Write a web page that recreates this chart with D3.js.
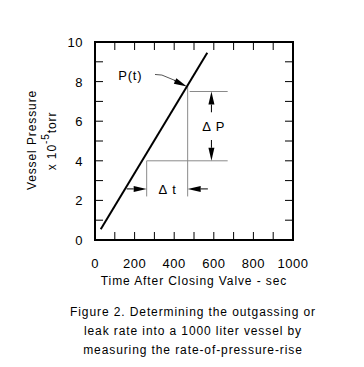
<!DOCTYPE html>
<html>
<head>
<meta charset="utf-8">
<script src="https://cdn.jsdelivr.net/npm/d3@7"></script>
<style>
  body { margin: 0; background: #fff; }
  text { font-family: "Liberation Sans", Arial, sans-serif; fill: #000; }
</style>
</head>
<body>
<div id="chart"></div>
<script>
var width = 364,
    height = 367;

// data
var xTicks = [0, 200, 400, 600, 800, 1000];
var yTicks = [0, 2, 4, 6, 8, 10];
var lineT = [29, 567];        // sec
var lineP = [0.54, 9.46];     // x 10^-5 torr
var stepT = [261, 468];       // delta t bounds
var stepP = [4, 7.5];         // delta P bounds
var captionLines = [
  "Figure 2. Determining the outgassing or",
  "leak rate into a 1000 liter vessel by",
  "measuring the rate-of-pressure-rise"
];

var x = d3.scaleLinear().domain([0, 1000]).range([95, 293]);
var y = d3.scaleLinear().domain([0, 10]).range([240, 42]);

var svg = d3.select("#chart")
  .append("svg")
    .attr("width", width)
    .attr("height", height);

// minor ticks, inside, all four sides
var tickLen = 8;
var xMinor = d3.range(100, 1000, 100);
var yMinor = d3.range(1, 10, 1);
var ticks = svg.append("g").attr("stroke", "#000").attr("stroke-width", 1);
xMinor.forEach(function(t) {
  ticks.append("line").attr("x1", x(t)).attr("x2", x(t)).attr("y1", y(0)).attr("y2", y(0) - tickLen);
  ticks.append("line").attr("x1", x(t)).attr("x2", x(t)).attr("y1", y(10)).attr("y2", y(10) + tickLen);
});
yMinor.forEach(function(p) {
  ticks.append("line").attr("x1", x(0)).attr("x2", x(0) + tickLen).attr("y1", y(p)).attr("y2", y(p));
  ticks.append("line").attr("x1", x(1000)).attr("x2", x(1000) - tickLen).attr("y1", y(p)).attr("y2", y(p));
});

// frame
svg.append("rect")
  .attr("x", x(0)).attr("y", y(10))
  .attr("width", x(1000) - x(0)).attr("height", y(0) - y(10))
  .attr("fill", "none").attr("stroke", "#000").attr("stroke-width", 2);

// tick labels
svg.selectAll(".xl").data(xTicks).enter().append("text")
  .attr("x", function(d) { return x(d); })
  .attr("y", 268)
  .attr("text-anchor", "middle")
  .style("font-size", "13px")
  .style("letter-spacing", "0.5px")
  .text(function(d) { return d; });

svg.selectAll(".yl").data(yTicks).enter().append("text")
  .attr("x", 83)
  .attr("y", function(d) { return y(d) + 5; })
  .attr("text-anchor", "end")
  .style("font-size", "13px")
  .style("letter-spacing", "0.5px")
  .text(function(d) { return d; });

// axis titles
svg.append("text")
  .attr("x", 194).attr("y", 285)
  .attr("text-anchor", "middle")
  .style("font-size", "12px")
  .style("letter-spacing", "0.9px")
  .text("Time After Closing Valve - sec");

svg.append("text")
  .attr("transform", "translate(36,140) rotate(-90)")
  .attr("text-anchor", "middle")
  .style("font-size", "12px")
  .style("letter-spacing", "0.9px")
  .text("Vessel Pressure");

var t2 = svg.append("text")
  .attr("transform", "translate(56,141) rotate(-90)")
  .attr("text-anchor", "middle")
  .style("font-size", "12px")
  .style("letter-spacing", "0.9px");
t2.append("tspan").text("x 10");
t2.append("tspan").attr("dy", -7).style("font-size", "10px").text("-5");
t2.append("tspan").attr("dy", 7).text("torr");

// construction lines (gray)
var gray = "#8a8a8a";
var lineAt = function(t) {
  return lineP[0] + (t - lineT[0]) * (lineP[1] - lineP[0]) / (lineT[1] - lineT[0]);
};
var g = svg.append("g").attr("stroke", gray).attr("stroke-width", 1).attr("fill", "none");
// horizontal at lower P
g.append("line").attr("x1", x(stepT[0])).attr("x2", x(670)).attr("y1", y(stepP[0])).attr("y2", y(stepP[0]));
// horizontal at upper P
g.append("line").attr("x1", x(stepT[1]) + 2).attr("x2", x(670)).attr("y1", y(stepP[1])).attr("y2", y(stepP[1]));
// left vertical (start of delta t)
g.append("line").attr("x1", x(stepT[0])).attr("x2", x(stepT[0])).attr("y1", y(stepP[0])).attr("y2", y(2.2));
// right vertical (end of delta t) up to P(t)
g.append("line").attr("x1", x(stepT[1])).attr("x2", x(stepT[1])).attr("y1", y(lineAt(stepT[1]))).attr("y2", y(2.2));
// P(t) leader
g.append("polyline")
  .attr("points", [[x(303), y(8.36)], [x(338), y(8.33)], [x(430), y(7.95)]].join(" "))
  .attr("stroke", "#555");

// main line P(t)
svg.append("line")
  .attr("x1", x(lineT[0])).attr("y1", y(lineP[0]))
  .attr("x2", x(lineT[1])).attr("y2", y(lineP[1]))
  .attr("stroke", "#000").attr("stroke-width", 2);

// arrows: thin shaft, filled head ending at (x2, y2)
function arrow(x1, y1, x2, y2) {
  var ang = Math.atan2(y2 - y1, x2 - x1);
  var L = 13, W = 3;
  var bx = x2 - L * Math.cos(ang), by = y2 - L * Math.sin(ang);
  svg.append("line")
    .attr("x1", x1).attr("y1", y1).attr("x2", bx).attr("y2", by)
    .attr("stroke", "#000").attr("stroke-width", 1);
  svg.append("path")
    .attr("d", "M" + x2 + "," + y2 +
      "L" + (bx + W * Math.sin(ang)) + "," + (by - W * Math.cos(ang)) +
      "L" + (bx - W * Math.sin(ang)) + "," + (by + W * Math.cos(ang)) + "Z")
    .attr("fill", "#000");
}

var arrowP = 2.58;
arrow(x(160), y(arrowP), x(stepT[0]), y(arrowP));
arrow(x(570), y(arrowP), x(stepT[1]), y(arrowP));
arrow(x(588), y(6.45), x(588), y(stepP[1]));
arrow(x(588), y(5.05), x(588), y(stepP[0]));
arrow(x(400), y(8.05), x(464), y(lineAt(464)));

// labels
svg.append("text")
  .attr("x", x(367)).attr("y", y(2.58) + 5)
  .attr("text-anchor", "middle")
  .style("font-size", "13px")
  .style("letter-spacing", "1px")
  .text("\u0394 t");

svg.append("text")
  .attr("x", x(600)).attr("y", y(5.75) + 5)
  .attr("text-anchor", "middle")
  .style("font-size", "13px")
  .style("letter-spacing", "1px")
  .text("\u0394 P");

svg.append("text")
  .attr("x", x(178)).attr("y", y(8.35) + 5)
  .attr("text-anchor", "middle")
  .style("font-size", "13px")
  .style("letter-spacing", "0.8px")
  .text("P(t)");

// caption
svg.selectAll(".cap").data(captionLines).enter().append("text")
  .attr("x", 193)
  .attr("y", function(d, i) { return 316 + i * 19; })
  .attr("text-anchor", "middle")
  .style("font-size", "12px")
  .style("letter-spacing", "0.9px")
  .text(function(d) { return d; });
</script>
</body>
</html>
